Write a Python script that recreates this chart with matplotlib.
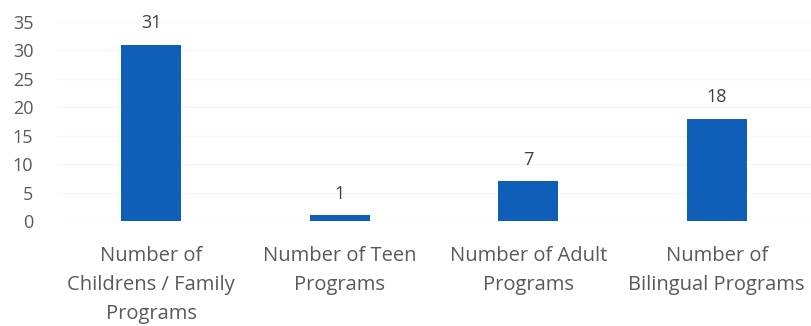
import matplotlib.pyplot as plt
import numpy as np

plt.rcParams['font.family'] = ['Open Sans', 'DejaVu Sans']

categories = ['Number of\nChildrens / Family\nPrograms',
              'Number of Teen\nPrograms',
              'Number of Adult\nPrograms',
              'Number of\nBilingual Programs']
counts = [31, 1, 7, 18]

fig = plt.figure(figsize=(8.11, 3.26), dpi=100)
ax = fig.add_axes([57 / 811, 105 / 326, 1 - 57 / 811, 199 / 326])

x = np.arange(len(categories))
bars = ax.bar(x, counts, width=0.32, color='#0f5fb8', zorder=3)

for xi, v in zip(x, counts):
    ax.annotate(str(v), (xi, v), xytext=(0, 9), textcoords='offset points',
                ha='center', va='bottom', fontsize=13, color='#404040')

ax.set_xlim(-0.5, 3.5)
ax.set_ylim(0, 35)
ax.set_yticks(range(0, 36, 5))
ax.set_xticks(x)
ax.set_xticklabels(categories, fontsize=14.5, color='#595959', linespacing=1.6)
ax.tick_params(axis='y', length=0, pad=17, labelsize=13, labelcolor='#595959')
ax.tick_params(axis='x', length=0, pad=18)
ax.yaxis.grid(True, color='#f6f6f6', linewidth=1, zorder=0)
for s in ax.spines.values():
    s.set_visible(False)

fig.savefig('out.png', dpi=100)
